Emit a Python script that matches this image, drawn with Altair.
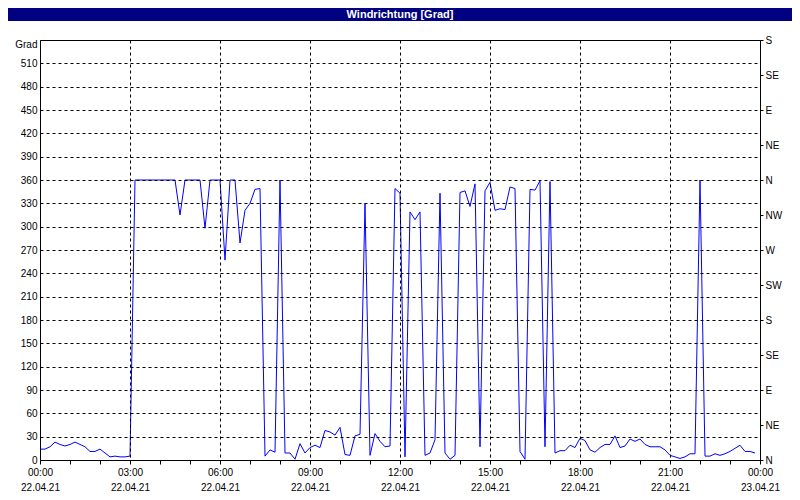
import json
import altair as alt
import pandas as pd

# Wind direction in degrees, one reading every 10 minutes on 22.04.21
direction = [14, 14, 17, 23, 20, 18, 20, 23, 20, 17, 11, 11, 14, 9, 4, 5, 4, 4, 5,
             360, 360, 360, 360, 360, 360, 360, 360, 360, 315, 360, 360, 360, 360, 298,
             360, 360, 360, 257, 360, 360, 279, 321, 330, 348, 349,
             5, 13, 10, 360, 9, 9, 1, 21, 9, 16, 19, 16, 38, 36, 32, 42, 7, 6, 31, 33,
             330, 6, 34, 24, 17, 18, 349, 343, 4, 319, 309, 319, 6, 9, 26, 343, 9, 1, 6,
             344, 346, 326, 355, 17, 346, 357, 321, 323, 322, 351, 349, 11, 1, 348, 347,
             359, 17, 358, 9, 12, 12, 19, 16, 28, 25, 13, 10, 16, 20, 20, 31, 16, 18, 27,
             24, 27, 20, 17, 17, 17, 13, 6, 4, 2, 4, 8, 8, 360, 5, 5, 8, 6, 8, 11, 15, 19,
             11, 11, 9]
minutes = [10 * i for i in range(len(direction))]

time_labels = ["00:00", "03:00", "06:00", "09:00", "12:00", "15:00", "18:00", "21:00", "00:00"]
date_labels = ["22.04.21"] * 8 + ["23.04.21"]
hour_ticks = list(range(0, 25))
deg_ticks = list(range(0, 541, 30))
compass_ticks = list(range(0, 541, 45))
compass_labels = ["N", "NE", "E", "SE", "S", "SW", "W", "NW", "N", "NE", "E", "SE", "S"]
title_text = "Windrichtung [Grad]"

df = pd.DataFrame({"hour": [m / 60 for m in minutes], "deg": direction})

FONT = "Liberation Sans"
NAVY = "#000080"

x_label_expr = (
    "datum.value % 3 != 0 ? '' : [" + json.dumps(time_labels) + "[datum.value / 3], "
    + json.dumps(date_labels) + "[datum.value / 3]]"
)

x_enc = alt.X(
    "hour:Q",
    scale=alt.Scale(domain=[0, 24], nice=False, zero=False),
    axis=alt.Axis(
        values=hour_ticks,
        labelExpr=x_label_expr,
        labelOverlap=False,
        labelFlush=False,
        labelFont=FONT,
        labelFontSize=10,
        labelColor="black",
        labelLineHeight=15,
        labelPadding=3,
        tickSize=4,
        tickColor="black",
        domainColor="black",
        grid=True,
        gridColor="black",
        gridDash=[3, 3],
        gridOpacity={"condition": {"test": "datum.value % 3 != 0 || datum.value == 0 || datum.value == 24", "value": 0}, "value": 1},
        title=None,
        zindex=1,
    ),
)

y_left = alt.Y(
    "deg:Q",
    scale=alt.Scale(domain=[0, 540], nice=False),
    axis=alt.Axis(
        orient="left",
        values=deg_ticks,
        labelExpr="datum.value == 540 ? 'Grad' : datum.value",
        labelOffset={"condition": {"test": "datum.value == 540", "value": 4}, "value": 0},
        labelFont=FONT,
        labelFontSize=10,
        labelColor="black",
        labelPadding=3,
        labelOverlap=False,
        tickSize=0,
        domainColor="black",
        grid=True,
        gridColor="black",
        gridDash=[3, 3],
        gridOpacity={"condition": {"test": "datum.value == 0 || datum.value == 540", "value": 0}, "value": 1},
        title=None,
        zindex=1,
    ),
)

y_right = alt.Y(
    "deg:Q",
    scale=alt.Scale(domain=[0, 540], nice=False),
    axis=alt.Axis(
        orient="right",
        values=compass_ticks,
        labelExpr=json.dumps(compass_labels) + "[datum.value / 45]",
        labelFont=FONT,
        labelFontSize=10,
        labelColor="black",
        labelPadding=2,
        labelOverlap=False,
        tickSize=3,
        tickColor="black",
        domainColor="black",
        grid=False,
        title=None,
    ),
)

line = alt.Chart(df).mark_line(color="#0000ff", strokeWidth=1).encode(x=x_enc, y=y_left)
right_axis = alt.Chart(df).mark_point(opacity=0).encode(y=y_right)

frame = alt.Chart(pd.DataFrame({"k": [0]}))
title_bar = frame.mark_rect(color=NAVY).encode(
    x=alt.value(-32), x2=alt.value(752), y=alt.value(-32), y2=alt.value(-19))
title = frame.mark_text(
    text=title_text, color="white", font=FONT, fontSize=11, fontWeight="bold",
    align="center", baseline="middle").encode(x=alt.value(360), y=alt.value(-25.5))

chart = (
    alt.layer(title_bar, title, line, right_axis)
    .resolve_axis(y="independent")
    .properties(
        width=720,
        height=420,
        padding={"left": 32, "top": 32, "right": 32, "bottom": 32},
        autosize=alt.AutoSizeParams(type="none"),
        background="white",
    )
    .configure_view(stroke="black", strokeWidth=1)
)

chart.save("out.html", embed_options={"renderer": "svg", "actions": False})
